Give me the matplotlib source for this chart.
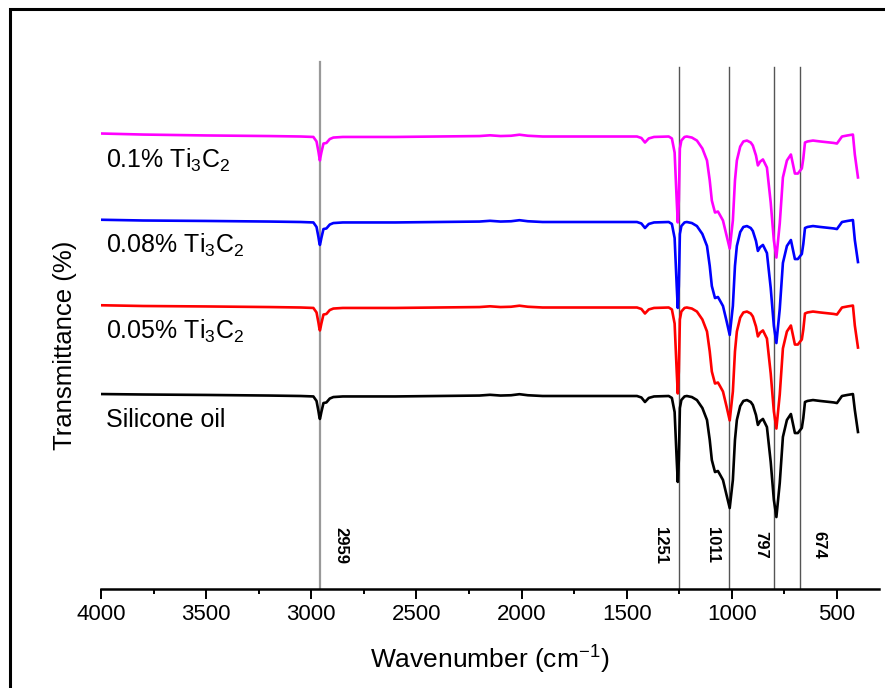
import matplotlib.pyplot as plt
from matplotlib.patches import Rectangle
from matplotlib.ticker import MultipleLocator

plt.rcParams['font.family'] = ['Liberation Sans', 'DejaVu Sans']
plt.rcParams['mathtext.fontset'] = 'custom'
plt.rcParams['mathtext.rm'] = 'Liberation Sans'
plt.rcParams['mathtext.it'] = 'Liberation Sans:italic'
plt.rcParams['mathtext.bf'] = 'Liberation Sans:bold'

# wavenumber grid (cm-1) shared by the four spectra
wavenumber = [
    4000, 3800, 3500, 3200, 3050, 2990, 2975, 2966, 2962, 2959, 2956, 2952, 2942,
    2928, 2912, 2895, 2850, 2600, 2400, 2200, 2150, 2100, 2050, 2010, 1970,
    1900, 1700, 1500, 1451, 1430, 1413, 1395, 1370, 1300, 1285, 1272, 1262,
    1257, 1252, 1247, 1240, 1225, 1214, 1190, 1166, 1140, 1118, 1105, 1095,
    1080, 1066, 1055, 1042, 1025, 1010, 995, 985, 976, 960, 945, 928, 910,
    900, 885, 876, 865, 852, 840, 833, 815, 800, 788, 780, 772, 757, 738,
    719, 710, 700, 686, 675, 667, 660, 652, 640, 614, 580, 534, 515, 500,
    476, 450, 424, 415, 400,
]

# transmittance (arbitrary %, before stacking)
t_silicone = [
    101.3, 101.0, 100.7, 100.3, 100.0, 99.7, 96.7, 90.0, 86.5, 84.7, 86.5, 89.3, 95.3,
    95.7, 98.3, 99.3, 99.7, 99.7, 100.0, 100.3, 100.8, 100.3, 100.5, 101.2, 100.5,
    100.0, 100.0, 100.0, 100.0, 99.0, 96.0, 98.7, 99.7, 100.0, 98.7, 89.3, 57.3,
    42.7, 57.3, 92.0, 97.3, 99.7, 100.0, 99.3, 97.3, 92.0, 84.0, 70.7, 57.3,
    49.3, 50.0, 47.3, 44.0, 34.0, 25.3, 44.0, 70.7, 84.0, 93.3, 96.7, 97.3, 96.0,
    94.0, 87.3, 80.7, 83.3, 84.7, 81.3, 79.3, 56.0, 30.7, 19.3, 30.7, 42.0, 72.7, 84.0,
    88.0, 82.0, 75.3, 75.3, 77.3, 78.7, 85.3, 96.0, 96.7, 97.3, 96.7, 96.0, 95.7, 95.3,
    100.0, 100.7, 101.3, 90.7, 76.0,
]
t_005 = [
    101.5, 101.0, 100.7, 100.3, 100.0, 99.7, 96.7, 90.0, 86.5, 84.7, 86.5, 89.3, 95.3,
    95.7, 98.3, 99.3, 99.7, 99.7, 100.0, 100.3, 100.8, 100.3, 100.5, 101.2, 100.5,
    100.0, 100.0, 100.0, 100.0, 99.0, 96.0, 98.7, 99.7, 100.0, 98.7, 89.3, 57.3,
    42.7, 57.3, 92.0, 97.3, 99.7, 100.0, 99.3, 97.3, 92.0, 84.0, 70.7, 57.3,
    49.3, 50.0, 47.3, 44.0, 34.0, 24.7, 44.0, 70.7, 84.0, 93.3, 96.7, 97.3, 96.0,
    94.0, 87.3, 80.7, 83.3, 84.7, 81.3, 79.3, 56.0, 30.7, 19.3, 30.7, 42.0, 72.7, 84.0,
    88.0, 82.0, 75.3, 75.3, 77.3, 78.7, 85.3, 96.0, 96.7, 97.3, 96.7, 96.0, 95.7, 95.3,
    100.0, 100.7, 101.3, 88.0, 73.3,
]
t_008 = [
    101.5, 101.0, 100.7, 100.3, 100.0, 99.7, 96.7, 90.0, 86.5, 84.7, 86.5, 89.3, 95.3,
    95.7, 98.3, 99.3, 99.7, 99.7, 100.0, 100.3, 100.8, 100.3, 100.5, 101.2, 100.5,
    100.0, 100.0, 100.0, 100.0, 99.0, 96.0, 98.7, 99.7, 100.0, 98.7, 89.3, 57.3,
    42.7, 57.3, 92.0, 97.3, 99.7, 100.0, 99.3, 97.3, 92.0, 84.0, 70.7, 57.3,
    49.3, 50.0, 47.3, 44.0, 34.0, 24.7, 44.0, 70.7, 84.0, 93.3, 96.7, 97.3, 96.0,
    94.0, 87.3, 80.7, 83.3, 84.7, 81.3, 79.3, 56.0, 30.7, 19.3, 30.7, 42.0, 72.7, 84.0,
    88.0, 82.0, 75.3, 75.3, 77.3, 78.7, 85.3, 96.0, 96.7, 97.3, 96.7, 96.0, 95.7, 95.3,
    100.0, 100.7, 101.3, 88.0, 73.3,
]
t_01 = [
    102.0, 101.3, 100.7, 100.3, 100.0, 99.7, 96.7, 90.0, 86.5, 84.0, 86.5, 89.3, 95.3,
    95.7, 98.3, 99.3, 99.7, 99.7, 100.0, 100.3, 100.8, 100.3, 100.5, 101.2, 100.5,
    100.0, 100.0, 100.0, 100.0, 99.0, 96.0, 98.7, 99.7, 100.0, 98.7, 89.3, 57.3,
    42.7, 57.3, 92.0, 97.3, 99.7, 100.0, 99.3, 97.3, 92.0, 84.0, 70.7, 57.3,
    49.3, 50.0, 47.3, 44.0, 34.0, 25.3, 44.0, 70.7, 84.0, 93.3, 96.7, 97.3, 96.0,
    94.0, 87.3, 80.7, 83.3, 84.7, 81.3, 79.3, 56.0, 30.7, 19.3, 30.7, 42.0, 72.7, 84.0,
    88.0, 82.0, 75.3, 75.3, 77.3, 78.7, 85.3, 96.0, 96.7, 97.3, 96.7, 96.0, 95.7, 95.3,
    100.0, 100.7, 101.3, 88.0, 72.7,
]

labels = ['Silicone oil', '0.05% Ti$_3$C$_2$', '0.08% Ti$_3$C$_2$', '0.1% Ti$_3$C$_2$']
spectra = [t_silicone, t_005, t_008, t_01]
peaks = [2959, 1251, 1011, 797, 674]

# display only
colors = ['black', '#ff0000', '#0000ff', '#ff00ff']
stack = [0, 59, 116, 173]
peak_dx = [21, -19, -17, -14, 19]

fig = plt.figure(figsize=(8.85, 6.88), dpi=100)
ax = fig.add_axes([101 / 885, 1 - 589 / 688, 778 / 885, 569 / 688])

for i, p in enumerate(peaks):
    if p == 2959:
        ax.axvline(p, ymax=0.926, color='#999999', lw=1.6, zorder=1)
    else:
        ax.axvline(p, ymax=0.917, color='#555555', lw=1.0, zorder=1)
    ax.annotate(str(p), xy=(p, 0.077), xycoords=('data', 'axes fraction'),
                xytext=(peak_dx[i], 0), textcoords='offset pixels',
                rotation=-90, ha='center', va='center',
                fontsize=12, fontweight='bold')

for t, off, c, lab in zip(spectra, stack, colors, labels):
    ax.plot(wavenumber, [v + off for v in t], color=c, lw=1.9, zorder=2)
    ax.text(3975, off + 79.3, lab, ha='left', va='baseline', fontsize=18)

ax.set_xlim(4000, 300)
ax.set_ylim(-28.67, 350.67)
ax.xaxis.set_major_locator(MultipleLocator(500))
ax.xaxis.set_minor_locator(MultipleLocator(250))
ax.tick_params(axis='x', which='major', direction='out', length=7, width=1.4,
               labelsize=16, pad=4)
ax.tick_params(axis='x', which='minor', direction='out', length=3.6, width=1.4)
ax.set_yticks([])
for s in ['left', 'top', 'right']:
    ax.spines[s].set_visible(False)
ax.spines['bottom'].set_linewidth(1.8)

fig.text(490 / 885, 1 - 660 / 688, 'Wavenumber (cm$^{\\mathregular{-1}}$)', ha='center',
         va='center', fontsize=19)
fig.text(65 / 885, 1 - 345 / 688, 'Transmittance (%)', ha='center',
         va='center', rotation=90, fontsize=18.5)

border = Rectangle((10 / 885, -0.5), 2, 1.5 - 8.5 / 688, transform=fig.transFigure,
                   fill=False, ec='black', lw=2.2, clip_on=False)
fig.patches.append(border)

fig.savefig('out.png', dpi=100)
